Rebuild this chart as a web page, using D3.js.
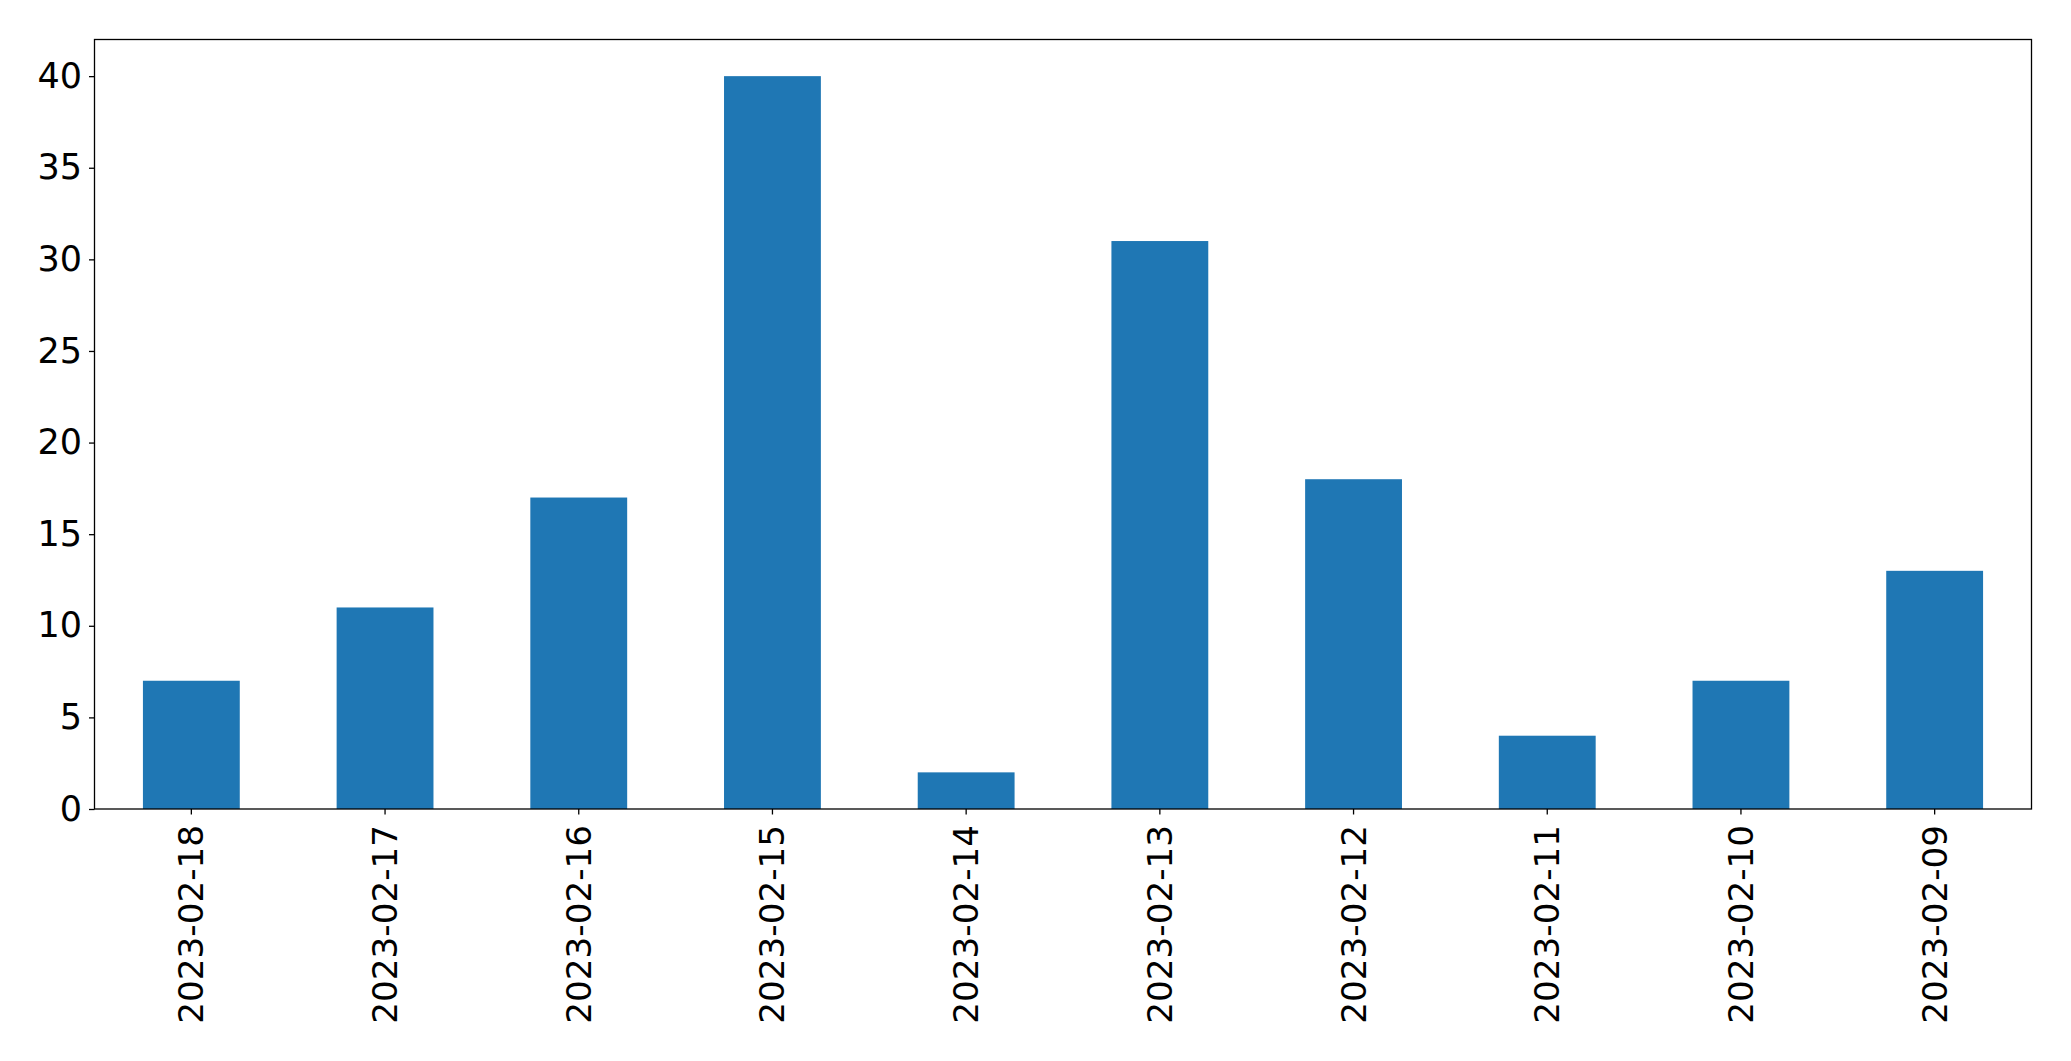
<!DOCTYPE html>
<html><head><meta charset="utf-8">
<script src="https://cdn.jsdelivr.net/npm/d3@7"></script>
<style>body{margin:0;background:#fff}svg{display:block}</style>
</head><body>
<script>
const categories = ["2023-02-18","2023-02-17","2023-02-16","2023-02-15","2023-02-14","2023-02-13","2023-02-12","2023-02-11","2023-02-10","2023-02-09"];
const values = [7, 11, 17, 40, 2, 31, 18, 4, 7, 13];
const yTicks = [0, 5, 10, 15, 20, 25, 30, 35, 40];

const W = 2071, H = 1061;
const m = {left: 94.5, right: 2071 - 2031.5, top: 39.5, bottom: 1061 - 809};
const svg = d3.select("body").append("svg").attr("width", W).attr("height", H);

const x = d3.scaleBand().domain(categories).range([m.left, W - m.right]).paddingInner(0.5).paddingOuter(0.25);
const y = d3.scaleLinear().domain([0, 42]).range([H - m.bottom, m.top]);

svg.selectAll("rect.bar").data(values).enter().append("rect")
  .attr("class", "bar")
  .attr("x", (d, i) => x(categories[i]))
  .attr("width", x.bandwidth())
  .attr("y", d => y(d))
  .attr("height", d => y(0) - y(d))
  .attr("fill", "#1f77b4");

const font = "DejaVu Sans";
const yAxis = svg.append("g").attr("transform", `translate(${m.left},0)`)
  .call(d3.axisLeft(y).tickValues(yTicks).tickSize(5.5).tickPadding(7).tickFormat(d3.format("d")));
yAxis.select(".domain").remove();
yAxis.selectAll("line").attr("stroke", "#000").attr("stroke-width", 1.3);
yAxis.selectAll("text").attr("font-family", font).attr("font-size", 35).attr("fill", "#000");

const xAxis = svg.append("g").attr("transform", `translate(0,${H - m.bottom})`)
  .call(d3.axisBottom(x).tickSize(5.5).tickSizeOuter(0));
xAxis.select(".domain").remove();
xAxis.selectAll("line").attr("stroke", "#000").attr("stroke-width", 1.3);
xAxis.selectAll("text")
  .attr("font-family", font).attr("font-size", 34.2).attr("fill", "#000")
  .attr("text-anchor", "end")
  .attr("dy", "0.35em")
  .attr("transform", "translate(0,16) rotate(-90)")
  .attr("x", 0).attr("y", 0);

svg.append("rect")
  .attr("x", m.left).attr("y", m.top)
  .attr("width", W - m.left - m.right).attr("height", H - m.top - m.bottom)
  .attr("fill", "none").attr("stroke", "#000").attr("stroke-width", 1.3);
</script>
</body></html>
